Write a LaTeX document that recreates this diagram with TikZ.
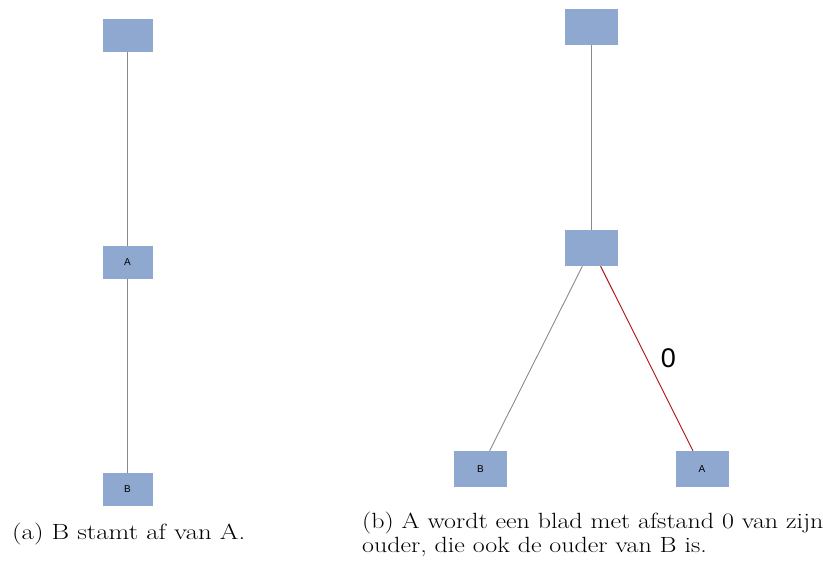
\documentclass[tikz,border=0pt]{standalone}
\usepackage{fontspec}
\newfontfamily\boxfont{Liberation Sans}
\begin{document}
\begin{tikzpicture}[x=1pt,y=-1pt,
  treenode/.style={fill=boxblue, draw=none, minimum width=50pt, minimum height=33pt, inner sep=0pt, font=\boxfont\fontsize{10}{11}\selectfont},
  treenodeb/.style={treenode, minimum width=53pt, minimum height=36pt},
  link/.style={draw=linkgray, line width=0.9pt},
  redlink/.style={draw=linkred, line width=0.9pt},
  caption/.style={anchor=base west, inner sep=0pt, font=\fontsize{22}{25}\selectfont}]
\definecolor{boxblue}{HTML}{8FA8CF}
\definecolor{linkgray}{HTML}{8A8A8A}
\definecolor{linkred}{HTML}{B01010}
\newcommand{\widecap}[2]{\scalebox{#1}[1]{#2}}
\useasboundingbox (0,0) rectangle (823,562);

% (a) chain: root -- A -- B
\node[treenode] (aroot) at (127.5,35) {};
\node[treenode] (aA) at (127.5,262.5) {A};
\node[treenode] (aB) at (127.5,489.5) {B};
\draw[link] (aroot) -- (aA);
\draw[link] (aA) -- (aB);

% (b) A becomes a leaf at distance 0 under the shared parent
\node[treenodeb] (broot) at (591.5,27) {};
\node[treenodeb] (bmid) at (591.5,248) {};
\node[treenodeb] (bB) at (480.5,469) {B};
\node[treenodeb] (bA) at (702,469) {A};
\draw[link] (broot) -- (bmid);
\draw[link] (bmid) -- (bB);
\draw[redlink] (bmid) -- (bA);
\node[font=\boxfont\fontsize{27}{30}\selectfont, inner sep=0pt] (zero) at (668.5,358) {0};

% captions
\node[caption] (capa) at (12,539) {\widecap{1.22}{(a) B stamt af van A.}};
\node[caption] (capb1) at (362,528) {\widecap{1.18}{(b) A wordt een blad met afstand 0 van zijn}};
\node[caption] (capb2) at (362,552) {\widecap{1.18}{ouder, die ook de ouder van B is.}};
\end{tikzpicture}
\end{document}
